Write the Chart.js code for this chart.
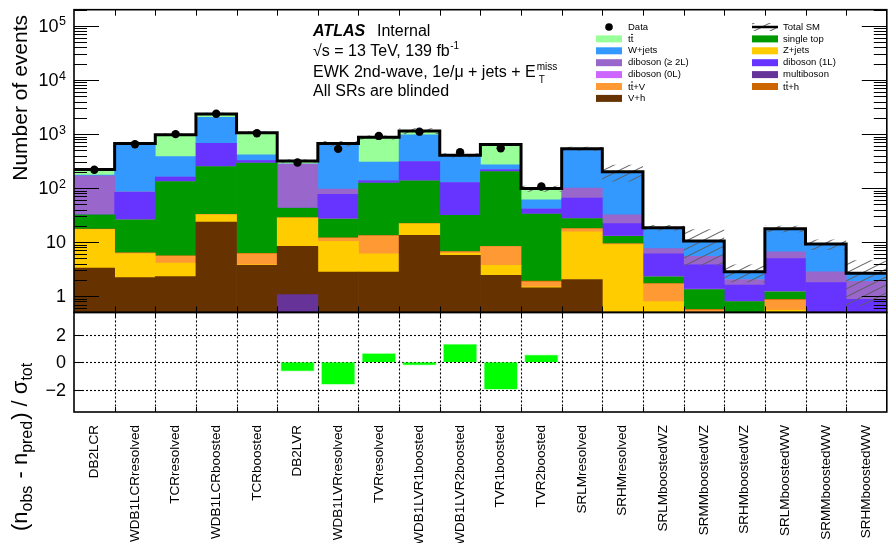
<!DOCTYPE html>
<html>
<head>
<meta charset="utf-8">
<script src="https://cdn.jsdelivr.net/npm/chart.js@4.4.1/dist/chart.umd.min.js"></script>
<style>
  html, body { margin: 0; padding: 0; background: #ffffff; }
  #wrap { position: relative; width: 891px; height: 543px; overflow: hidden; }
  canvas { display: block; }
</style>
</head>
<body>
<div id="wrap"><canvas id="c" width="891" height="543"></canvas></div>
<script>
// ---- regions (bins) ----
const regions = ['DB2LCR', 'WDB1LCRresolved', 'TCRresolved', 'WDB1LCRboosted', 'TCRboosted',
  'DB2LVR', 'WDB1LVRresolved', 'TVRresolved', 'WDB1LVR1boosted', 'WDB1LVR2boosted',
  'TVR1boosted', 'TVR2boosted', 'SRLMresolved', 'SRHMresolved', 'SRLMboostedWZ',
  'SRMMboostedWZ', 'SRHMboostedWZ', 'SRLMboostedWW', 'SRMMboostedWW', 'SRHMboostedWW'];

// ---- background yields per region, listed from the bottom of the stack upwards ----
const multiboson = [0.05, 0.05, 0.05, 0.1, 0.05, 1.07, 0.05, 0.05, 0.1, 0.05, 0.04, 0.03, 0.03, 0.02, 0.02, 0.02, 0.01, 0.02, 0.01, 0.01];
const vh         = [3.25, 2.15, 2.25, 23.5, 3.65, 7.33, 2.75, 2.75, 13.2, 5.65, 2.4, 1.4, 2.0, 0.28, 0.05, 0.03, 0.02, 0.03, 0.02, 0.01];
const zjets      = [13.7, 3.9, 1.8, 8.4, 0.1, 19.5, 7.5, 3.25, 8.4, 0.5, 1.26, 0.05, 13.4, 8.7, 0.72, 0.1, 0.05, 0.5, 0.03, 0.02];
const ttv        = [0.3, 0.2, 1.4, 0.3, 2.3, 0.1, 1.6, 7.05, 0.2, 0.4, 4.6, 0.37, 2.2, 0.25, 0.9, 0.4, 0.1, 0.3, 0.04, 0.03];
const tth        = [0.05, 0.05, 0.1, 0.1, 0.1, 0.05, 0.05, 0.1, 0.1, 0.05, 0.1, 0.05, 0.1, 0.05, 0.02, 0.02, 0.01, 0.02, 0.01, 0.01];
const singletop  = [14.6, 19.6, 126.4, 217.6, 282.9, 14.75, 14.85, 110.8, 114, 24.55, 193.6, 31.1, 9.5, 3.5, 0.57, 0.76, 0.6, 0.33, 0.05, 0.05];
const diboson0L  = [0.1, 0.05, 0.05, 0.1, 0.05, 0.1, 0.05, 0.05, 0.1, 0.05, 0.05, 0.02, 0.1, 0.1, 0.02, 0.02, 0.01, 0.02, 0.02, 0.02];
const diboson1L  = [0.5, 57, 27.95, 425.9, 33.95, 0.1, 50.15, 11.95, 173.9, 95.75, 15.95, 7.98, 37.7, 9.1, 3.8, 2.5, 0.8, 3.74, 1.6, 0.72];
const diboson2L  = [136.5, 2, 0, 0, 0, 233.8, 19, 0, 0, 0, 0, 0, 35, 10, 1.5, 1.62, 0.43, 1.64, 1.05, 1.02];
const wjets      = [5, 577, 223, 1364, 88, 0, 560, 166, 652, 279, 51, 19.8, 435, 169, 10.9, 5.03, 0.8, 11.1, 6.38, 0.75];
const ttbar      = [46, 3, 592, 310, 649, 39.2, 9, 568, 179, 0, 369, 37.2, 0, 0, 0, 0, 0, 0, 0, 0];

// ---- observed data (signal regions blinded) ----
const observed = [218, 649, 996, 2378, 1035, 297, 531, 923, 1107, 462, 547, 107,
  null, null, null, null, null, null, null, null];

// ---- relative total uncertainty on the SM prediction ----
const relUnc = [0.05, 0.05, 0.05, 0.05, 0.05, 0.07, 0.12, 0.085, 0.12, 0.09, 0.06, 0.13,
  0.09, 0.34, 0.12, 0.65, 0.36, 0.14, 0.22, 0.75];

// ---- (n_obs - n_pred) / sigma_tot ----
const significance = [null, null, null, null, null, -0.68, -1.63, 0.66, -0.24, 1.34, -2.0, 0.56,
  null, null, null, null, null, null, null, null];

// ---- axis ticks ----
const logTickValues = [1, 10, 100, 1000, 10000, 100000];
const logTickBase   = ['1', '10', '10', '10', '10', '10'];
const logTickExp    = ['', '', '2', '3', '4', '5'];
const ratioTickValues = [-2, 0, 2];
const ratioTickLabels = ['\u22122', '0', '2'];

const YMIN = 0.5, YMAX = 2e5, RMIN = -3.6, RMAX = 3.6;
const FONT = "'Liberation Sans', Arial, Helvetica, sans-serif";

const components = [
  { label: 'multiboson',     color: '#663399', values: multiboson },
  { label: 'V+h',            color: '#663300', values: vh },
  { label: 'Z+jets',         color: '#ffcc00', values: zjets },
  { label: 'ttbar+V',        color: '#ff9933', values: ttv },
  { label: 'ttbar+h',        color: '#cc6600', values: tth },
  { label: 'single top',     color: '#009900', values: singletop },
  { label: 'diboson (0L)',   color: '#cc66ff', values: diboson0L },
  { label: 'diboson (1L)',   color: '#6633ff', values: diboson1L },
  { label: 'diboson (>=2L)', color: '#9966cc', values: diboson2L },
  { label: 'W+jets',         color: '#3399ff', values: wjets },
  { label: 'ttbar',          color: '#99ff99', values: ttbar }
];
const colorOf = Object.fromEntries(components.map(c => [c.label, c.color]));

// diagonal hatch used for the uncertainty band
function makeHatch() {
  const c = document.createElement('canvas');
  c.width = 16; c.height = 8;
  const g = c.getContext('2d');
  g.strokeStyle = 'rgba(95,95,95,0.95)';
  g.lineWidth = 1.1;
  [[-16, 8, 16, -8], [-16, 16, 32, -8], [0, 16, 32, 0]].forEach(([a, b, cc, d]) => {
    g.beginPath(); g.moveTo(a, b); g.lineTo(cc, d); g.stroke();
  });
  return g.createPattern(c, 'repeat');
}
const hatch = makeHatch();

const nBins = regions.length;
const binCentre = i => i + 0.5;

// cumulative stack -> floating bars clipped at the axis minimum
const cum = new Array(nBins).fill(0);
const barCommon = { grouped: false, borderWidth: 0, barPercentage: 1, categoryPercentage: 1 };
const stackSets = components.map(comp => {
  const data = comp.values.map((v, i) => {
    const lo = cum[i];
    cum[i] += v;
    return { x: binCentre(i), y: [Math.max(lo, YMIN), Math.max(cum[i], YMIN)] };
  });
  return Object.assign({
    type: 'bar', label: comp.label, data,
    backgroundColor: comp.color, xAxisID: 'x', yAxisID: 'y', order: 3
  }, barCommon);
});
const totalSM = cum.slice();

const bandSet = Object.assign({
  type: 'bar', label: 'uncertainty',
  data: totalSM.map((t, i) => ({ x: binCentre(i), y: [Math.max(t * (1 - relUnc[i]), YMIN), t * (1 + relUnc[i])] })),
  backgroundColor: hatch, inflateAmount: 0,
  xAxisID: 'x', yAxisID: 'y', order: 2
}, barCommon);

const stepPoints = [];
totalSM.forEach((t, i) => { stepPoints.push({ x: i, y: t }, { x: i + 1, y: t }); });
const totalSet = {
  type: 'line', label: 'Total SM', data: stepPoints,
  xAxisID: 'x', yAxisID: 'y', borderColor: '#000', borderWidth: 3,
  pointRadius: 0, tension: 0, fill: false, order: 1
};

const dataSet = {
  type: 'scatter', label: 'Data',
  data: observed.map((v, i) => (v == null ? null : { x: binCentre(i), y: v })).filter(p => p),
  xAxisID: 'x', yAxisID: 'y', pointRadius: 4.2, pointHoverRadius: 4.2,
  backgroundColor: '#000', borderColor: '#000', borderWidth: 0, order: 0
};

const ratioSet = {
  type: 'bar', label: 'significance',
  data: significance.map((v, i) => (v == null ? null : { x: binCentre(i), y: v })).filter(p => p),
  xAxisID: 'x', yAxisID: 'r', backgroundColor: '#00ff00',
  borderColor: '#99ff99', borderWidth: 0.8, order: 3, grouped: false,
  barPercentage: 0.84, categoryPercentage: 1
};

function line(ctx, x1, y1, x2, y2) {
  ctx.beginPath(); ctx.moveTo(x1, y1); ctx.lineTo(x2, y2); ctx.stroke();
}

// "t tbar" text: a short bar is drawn over the second t
function drawTT(ctx, x, y, suffix) {
  ctx.textAlign = 'left';
  ctx.fillText('tt' + suffix, x, y);
  const w1 = ctx.measureText('t').width;
  const w2 = ctx.measureText('tt').width;
  ctx.save();
  ctx.lineWidth = 0.9;
  ctx.strokeStyle = ctx.fillStyle;
  line(ctx, x + w1 + 0.3, y - 8, x + w2 - 0.3, y - 8);
  ctx.restore();
}

const panelPlugin = {
  id: 'panelPlugin',
  beforeDatasetsDraw(chart) {
    const { ctx } = chart;
    const x = chart.scales.x, r = chart.scales.r;
    ctx.save();
    ctx.strokeStyle = '#000';
    ctx.lineWidth = 1.1;
    ctx.setLineDash([2, 2]);
    ratioTickValues.forEach(v => {
      const py = Math.round(r.getPixelForValue(v)) + 0.5;
      line(ctx, x.left, py, x.right, py);
    });
    for (let i = 1; i < nBins; i++) {
      const px = Math.round(x.getPixelForValue(i)) + 0.5;
      line(ctx, px, r.top, px, r.bottom);
    }
    ctx.restore();
  },
  afterDraw(chart) {
    const { ctx } = chart;
    const x = chart.scales.x, y = chart.scales.y, r = chart.scales.r;
    const L = x.left, R = x.right;
    ctx.save();
    ctx.strokeStyle = '#000';
    ctx.fillStyle = '#000';

    // frames
    ctx.lineWidth = 1.6;
    ctx.strokeRect(L, y.top, R - L, y.bottom - y.top);
    ctx.strokeRect(L, r.top, R - L, r.bottom - r.top);

    // log ticks (inward, both sides)
    ctx.lineWidth = 1;
    for (let d = -1; d <= 5; d++) {
      for (let m = 1; m <= 9; m++) {
        const v = m * Math.pow(10, d);
        if (v < YMIN || v > YMAX) continue;
        const py = Math.round(y.getPixelForValue(v)) + 0.5;
        const len = m === 1 ? 25 : 13;
        line(ctx, L, py, L + len, py);
        line(ctx, R - len, py, R, py);
      }
    }
    // bin-edge ticks
    for (let i = 1; i < nBins; i++) {
      const px = Math.round(x.getPixelForValue(i)) + 0.5;
      line(ctx, px, y.top, px, y.top + 6);
      line(ctx, px, y.bottom, px, y.bottom - 6);
      line(ctx, px, r.top, px, r.top + 5);
      line(ctx, px, r.bottom, px, r.bottom - 5);
    }
    // ratio ticks
    ratioTickValues.forEach(v => {
      const py = Math.round(r.getPixelForValue(v)) + 0.5;
      line(ctx, L, py, L + 10, py);
      line(ctx, R - 10, py, R, py);
    });

    // y tick labels
    const LABR = 66;
    logTickValues.forEach((v, i) => {
      const py = y.getPixelForValue(v);
      ctx.textAlign = 'right';
      let right = LABR;
      if (logTickExp[i]) {
        ctx.font = `12.5px ${FONT}`;
        ctx.textBaseline = 'alphabetic';
        ctx.fillText(logTickExp[i], LABR, py - 0.5);
        right = LABR - ctx.measureText(logTickExp[i]).width - 0.5;
      }
      ctx.font = `18px ${FONT}`;
      ctx.textBaseline = 'middle';
      ctx.fillText(logTickBase[i], right, py + 1);
    });
    ratioTickValues.forEach((v, i) => {
      const py = r.getPixelForValue(v);
      ctx.font = `18px ${FONT}`;
      ctx.textAlign = 'right';
      ctx.textBaseline = 'middle';
      ctx.fillText(ratioTickLabels[i], LABR, py + 1);
    });

    // y axis titles
    ctx.save();
    ctx.translate(27, 15);
    ctx.rotate(-Math.PI / 2);
    ctx.font = `21px ${FONT}`;
    ctx.textAlign = 'right';
    ctx.textBaseline = 'alphabetic';
    ctx.fillText('Number of events', 0, 0);
    ctx.restore();

    ctx.save();
    ctx.translate(27, 531);
    ctx.rotate(-Math.PI / 2);
    ctx.textAlign = 'left';
    ctx.textBaseline = 'alphabetic';
    const pieces = [
      ['(n', 0], ['obs', 1], [' - n', 0], ['pred', 1], [') / \u03c3', 0], ['tot', 1]
    ];
    let px = 0;
    pieces.forEach(([t, sub]) => {
      ctx.font = sub ? `16px ${FONT}` : `22px ${FONT}`;
      ctx.fillText(t, px, sub ? 5 : 0);
      px += ctx.measureText(t).width + (sub ? 1 : 0);
    });
    ctx.restore();

    // ATLAS label block
    ctx.textAlign = 'left';
    ctx.textBaseline = 'alphabetic';
    ctx.font = `italic bold 16px ${FONT}`;
    ctx.fillText('ATLAS', 313, 36);
    ctx.font = `16px ${FONT}`;
    ctx.fillText('Internal', 377, 36);
    const t2 = '\u221as = 13 TeV, 139 fb';
    ctx.fillText(t2, 313, 56);
    const w2 = ctx.measureText(t2).width;
    ctx.font = `10px ${FONT}`;
    ctx.fillText('-1', 313 + w2 + 0.5, 49);
    ctx.font = `16px ${FONT}`;
    const t3 = 'EWK 2nd-wave, 1e/\u03bc + jets + E';
    ctx.fillText(t3, 313, 76.7);
    const w3 = ctx.measureText(t3).width;
    ctx.font = `10px ${FONT}`;
    ctx.fillText('miss', 313 + w3 + 1, 69.5);
    ctx.fillText('T', 313 + w3 + 3, 83);
    ctx.font = `16px ${FONT}`;
    ctx.fillText('All SRs are blinded', 313, 95.5);

    // legend
    const rowY = k => 27 + 11.9 * k;
    const legFont = `9.5px ${FONT}`;
    const leftCol = [
      { kind: 'data', text: 'Data' },
      { kind: 'box', key: 'ttbar', tt: '' },
      { kind: 'box', key: 'W+jets', text: 'W+jets' },
      { kind: 'box', key: 'diboson (>=2L)', text: 'diboson (\u2265 2L)' },
      { kind: 'box', key: 'diboson (0L)', text: 'diboson (0L)' },
      { kind: 'box', key: 'ttbar+V', tt: '+V' },
      { kind: 'box', key: 'V+h', text: 'V+h' }
    ];
    const rightCol = [
      { kind: 'total', text: 'Total SM' },
      { kind: 'box', key: 'single top', text: 'single top' },
      { kind: 'box', key: 'Z+jets', text: 'Z+jets' },
      { kind: 'box', key: 'diboson (1L)', text: 'diboson (1L)' },
      { kind: 'box', key: 'multiboson', text: 'multiboson' },
      { kind: 'box', key: 'ttbar+h', tt: '+h' }
    ];
    function drawCol(items, sx, tx) {
      items.forEach((it, k) => {
        const cy = rowY(k);
        if (it.kind === 'data') {
          ctx.beginPath();
          ctx.arc(sx + 13, cy, 3.8, 0, Math.PI * 2);
          ctx.fill();
        } else if (it.kind === 'total') {
          ctx.fillStyle = hatch;
          ctx.fillRect(sx, cy - 4, 26, 8);
          ctx.fillStyle = '#000';
          ctx.lineWidth = 2.5;
          line(ctx, sx, cy, sx + 26, cy);
          ctx.lineWidth = 1;
        } else {
          ctx.fillStyle = colorOf[it.key];
          ctx.fillRect(sx, cy - 3.5, 26, 7);
          ctx.fillStyle = '#000';
        }
        ctx.font = legFont;
        if (it.tt !== undefined) {
          ctx.textBaseline = 'alphabetic';
          drawTT(ctx, tx, cy + 3.5, it.tt);
        } else {
          ctx.textBaseline = 'middle';
          ctx.textAlign = 'left';
          ctx.fillText(it.text, tx, cy);
        }
      });
    }
    drawCol(leftCol, 596, 628);
    drawCol(rightCol, 752, 783);

    ctx.restore();
  }
};

Chart.defaults.font.family = FONT;
Chart.defaults.color = '#000';

new Chart(document.getElementById('c'), {
  type: 'bar',
  data: { datasets: [...stackSets, bandSet, totalSet, dataSet, ratioSet] },
  options: {
    responsive: false,
    devicePixelRatio: 1,
    animation: false,
    events: [],
    layout: { padding: { left: 0, right: 3.5, top: 9.7, bottom: 0 } },
    plugins: { legend: { display: false }, title: { display: false }, tooltip: { enabled: false } },
    scales: {
      x: {
        type: 'linear', min: 0, max: nBins, offset: false,
        afterBuildTicks(s) { s.ticks = regions.map((_, i) => ({ value: binCentre(i) })); },
        grid: { display: false, drawTicks: false },
        border: { display: false },
        ticks: {
          autoSkip: false, minRotation: 90, maxRotation: 90, padding: 13,
          color: '#000', font: { family: FONT, size: 13.5 },
          callback: (v, i) => regions[i]
        },
        afterFit(s) { s.height = 131; s.paddingLeft = 0; s.paddingRight = 0; }
      },
      r: {
        type: 'linear', position: 'left', stack: 'panels', stackWeight: 1,
        min: RMIN, max: RMAX, stacked: false,
        grid: { display: false }, border: { display: false }, ticks: { display: false },
        afterFit(s) { s.width = 74; }
      },
      y: {
        type: 'logarithmic', position: 'left', stack: 'panels', stackWeight: 3.04,
        min: YMIN, max: YMAX, stacked: false,
        grid: { display: false }, border: { display: false }, ticks: { display: false },
        afterFit(s) { s.width = 74; }
      }
    }
  },
  plugins: [panelPlugin]
});
</script>
</body>
</html>
